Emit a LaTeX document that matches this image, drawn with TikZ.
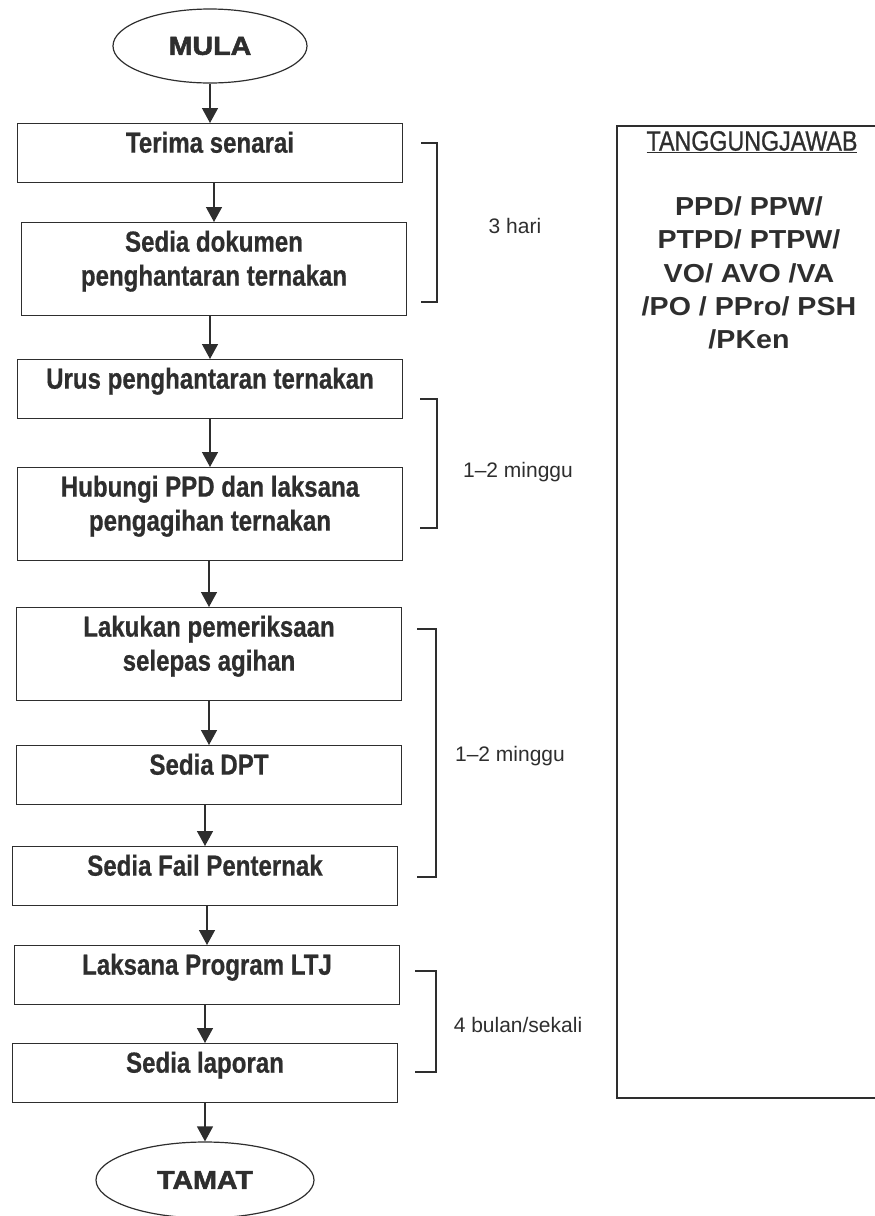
\documentclass[tikz,border=0pt]{standalone}
\usepackage{fontspec}
\setmainfont{Liberation Sans}
\newfontfamily\stepfont[FakeStretch=0.83,FakeBold=0.6]{Liberation Sans}
\newfontfamily\endfont[FakeStretch=1.1,FakeBold=2]{Liberation Sans}
\newfontfamily\namefont[FakeStretch=1.1]{Liberation Sans}
\newfontfamily\headfont[FakeStretch=0.83,FakeBold=0.8]{Liberation Sans}
\usepackage{tikz}
\usetikzlibrary{shapes.geometric,arrows.meta,positioning}
\definecolor{ink}{gray}{0.18}
\tikzset{box/.style={draw=ink, rectangle, line width=1.3pt, minimum width=385pt, inner xsep=0pt, inner ysep=0pt, text height=29pt, text depth=30pt, align=center, anchor=north, text=ink, font=\stepfont\bfseries\fontsize{29}{34}\selectfont}}
\tikzset{twoline/.style={text height=63pt}}
\tikzset{terminal/.style={draw=ink, ellipse, line width=1.2pt, inner sep=0pt, text=ink, font=\endfont\bfseries\fontsize{26}{30}\selectfont}}
\tikzset{arr/.style={draw=ink, line width=1.4pt, -{Triangle[length=15pt,width=16pt]}}}
\tikzset{bracket/.style={draw=ink, line width=1.3pt}}
\tikzset{period/.style={text=ink, font=\fontsize{21}{25}\selectfont}}

\begin{document}
\begin{tikzpicture}[x=1pt, y=-1pt]
		\useasboundingbox (0,0) rectangle (875,1216);
		\node[terminal, minimum width=194pt, minimum height=74pt] (mula) at (210,46) {MULA};
		\node[box] (terima) at (210,123) {Terima senarai};
		\node[box, twoline] (dokumen) at (214,222) {Sedia dokumen\\penghantaran ternakan};
		\node[box] (urus) at (210,359) {Urus penghantaran ternakan};
		\node[box, twoline] (hubungi) at (210,467) {Hubungi PPD dan laksana\\pengagihan ternakan};
		\node[box, twoline] (periksa) at (209,607) {Lakukan pemeriksaan\\selepas agihan};
		\node[box] (dpt) at (209,745) {Sedia DPT};
		\node[box] (fail) at (205,846) {Sedia Fail Penternak};
		\node[box] (ltj) at (207,945) {Laksana Program LTJ};
		\node[box] (laporan) at (205,1043) {Sedia laporan};
		\node[terminal, minimum width=218pt, minimum height=76pt] (tamat) at (205,1180) {TAMAT};
		
		\draw[arr] (mula.south -| terima) -- (terima);
		\draw[arr] (terima.south -| dokumen) -- (dokumen);
		\draw[arr] (dokumen.south -| urus) -- (urus);
		\draw[arr] (urus.south -| hubungi) -- (hubungi);
		\draw[arr] (hubungi.south -| periksa) -- (periksa);
		\draw[arr] (periksa.south -| dpt) -- (dpt);
		\draw[arr] (dpt.south -| fail) -- (fail);
		\draw[arr] (fail.south -| ltj) -- (ltj);
		\draw[arr] (ltj.south -| laporan) -- (laporan);
		\draw[arr] (laporan.south -| tamat) -- (tamat);
		
		% tempoh
		\draw[bracket] (421,143) -- (437,143) -- (437,302) -- (421,302);
		\draw[bracket] (420,399) -- (437,399) -- (437,528) -- (420,528);
		\draw[bracket] (417,629) -- (436,629) -- (436,877) -- (417,877);
		\draw[bracket] (415,971) -- (436,971) -- (436,1072) -- (415,1072);
		\node[period] (hari) at (515,226) {3 hari};
		\node[period] (minggu1) at (518,472) {1--2 minggu};
		\node[period] (minggu2) at (510,756) {1--2 minggu};
		\node[period] (bulan) at (518,1025) {4 bulan/sekali};
		
		% tanggungjawab
		\draw[draw=ink, line width=1.3pt] (880,126) -- (617,126) -- (617,1098) -- (880,1098);
		\node[text=ink, font=\headfont\fontsize{28}{32}\selectfont] (tajuk) at (752,142) {\underline{TANGGUNGJAWAB}};
		\node[text=ink, align=center, font=\namefont\bfseries\fontsize{26}{33.3}\selectfont] (pegawai) at (749,273) {PPD/ PPW/\\PTPD/ PTPW/\\VO/ AVO /VA\\/PO / PPro/ PSH\\/PKen};
	\end{tikzpicture}
\end{document}
